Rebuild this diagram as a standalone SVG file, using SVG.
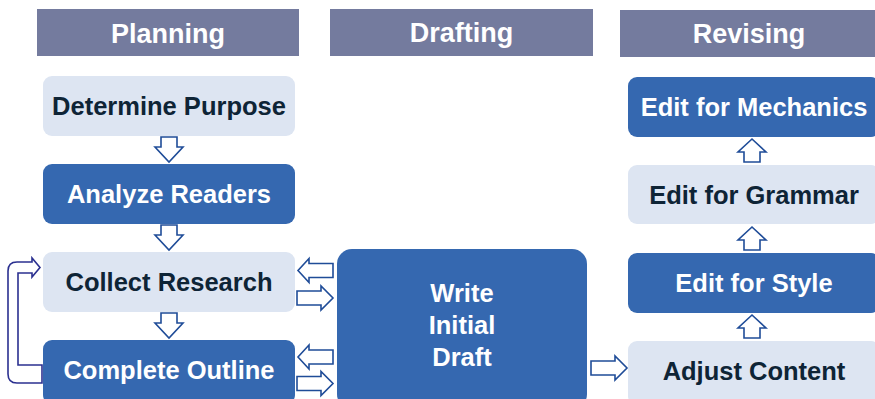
<svg xmlns="http://www.w3.org/2000/svg" width="875" height="399" viewBox="0 0 875 399">
<defs>
<style>
.hdr{fill:#747b9e}
.hdrt{font-family:"Liberation Sans",Arial,sans-serif;font-weight:bold;font-size:27px;fill:#ffffff;text-anchor:middle}
.dark{fill:#3568b0}
.light{fill:#dde5f2}
.tw{font-family:"Liberation Sans",Arial,sans-serif;font-weight:bold;font-size:25.5px;fill:#ffffff;text-anchor:middle}
.tb{font-family:"Liberation Sans",Arial,sans-serif;font-weight:bold;font-size:25.5px;fill:#0e2436;text-anchor:middle}
.arr{fill:#ffffff;stroke:#1f4c98;stroke-width:1.6;stroke-linejoin:miter}
.loop{fill:#ffffff;stroke:#2b3090;stroke-width:1.6}
</style>
<path id="down" class="arr" d="M-8,0 H8 V10 H14 L0,25 L-14,10 H-8 Z"/>
<path id="up" class="arr" d="M-8,0 H8 V-10 H14 L0,-23 L-14,-10 H-8 Z"/>
<path id="right" class="arr" d="M0,-7 H24 V-12 L36,0 L24,12 V7 H0 Z"/>
<path id="left" class="arr" d="M0,-7 H-24 V-12 L-35,0 L-24,12 V7 H0 Z"/>
</defs>
<rect width="875" height="399" fill="#ffffff"/>

<g id="hdr-planning"><rect class="hdr" x="37" y="9" width="262" height="47"/><text class="hdrt" x="168" y="43">Planning</text></g>
<g id="hdr-drafting"><rect class="hdr" x="330" y="9" width="263" height="47"/><text class="hdrt" x="461.5" y="42">Drafting</text></g>
<g id="hdr-revising"><rect class="hdr" x="620" y="10" width="258" height="47"/><text class="hdrt" x="749" y="43">Revising</text></g>

<g id="n-determine"><rect class="light" x="43" y="76" width="252" height="60" rx="9"/><text class="tb" x="169" y="115">Determine Purpose</text></g>
<g id="n-analyze"><rect class="dark" x="43" y="164" width="252" height="60" rx="9"/><text class="tw" x="169" y="203">Analyze Readers</text></g>
<g id="n-collect"><rect class="light" x="43" y="252" width="252" height="60" rx="9"/><text class="tb" x="169" y="291">Collect Research</text></g>
<g id="n-outline"><rect class="dark" x="43" y="340" width="252" height="64" rx="9"/><text class="tw" x="169" y="379">Complete Outline</text></g>

<g id="n-write"><rect class="dark" x="337" y="249" width="250" height="160" rx="15"/>
<text class="tw" x="462" y="302">Write</text><text class="tw" x="462" y="334">Initial</text><text class="tw" x="462" y="366">Draft</text></g>

<g id="n-mechanics"><rect class="dark" x="628" y="77" width="252" height="60" rx="9"/><text class="tw" x="754" y="116">Edit for Mechanics</text></g>
<g id="n-grammar"><rect class="light" x="628" y="165" width="252" height="59" rx="9"/><text class="tb" x="754" y="204">Edit for Grammar</text></g>
<g id="n-style"><rect class="dark" x="628" y="253" width="252" height="60" rx="9"/><text class="tw" x="754" y="292">Edit for Style</text></g>
<g id="n-adjust"><rect class="light" x="628" y="341" width="252" height="64" rx="9"/><text class="tb" x="754" y="380">Adjust Content</text></g>

<g id="connectors">
<use href="#down" x="169" y="137"/>
<use href="#down" x="169" y="225"/>
<use href="#down" x="169" y="313"/>
<use href="#left" x="333" y="270.5"/>
<use href="#right" x="297" y="298"/>
<use href="#left" x="333" y="357"/>
<use href="#right" x="297" y="383.5"/>
<use href="#right" x="591" y="368"/>
<use href="#up" x="752" y="162"/>
<use href="#up" x="752" y="250"/>
<use href="#up" x="752" y="338"/>
<path class="loop" d="M42,383 L17,383 Q8,383 8,374 L8,271 Q8,262 17,262 L32,262 L32,258 L40,267.5 L32,277 L32,273 L18,273 L18,365 L42,365 Z"/>
</g>
</svg>
